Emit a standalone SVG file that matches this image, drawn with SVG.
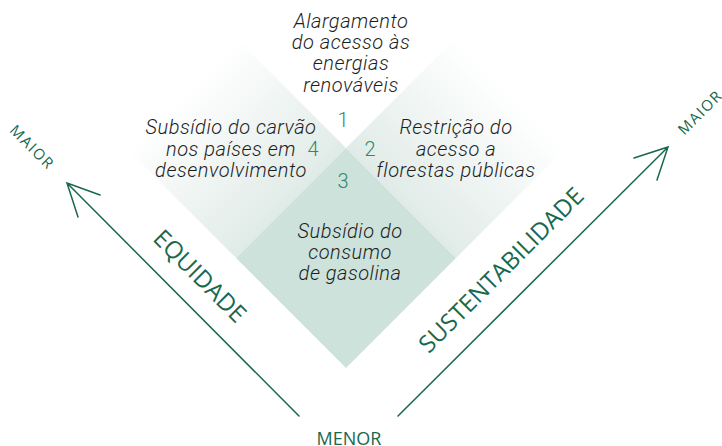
<svg xmlns="http://www.w3.org/2000/svg" width="722" height="446" viewBox="0 0 722 446">
  <defs>
    <linearGradient id="gl" gradientUnits="userSpaceOnUse" x1="181" y1="93" x2="291" y2="203">
      <stop offset="0" stop-color="#ffffff"/>
      <stop offset="1" stop-color="#e0ebe7"/>
    </linearGradient>
    <linearGradient id="gr" gradientUnits="userSpaceOnUse" x1="511" y1="93" x2="401" y2="203">
      <stop offset="0" stop-color="#ffffff"/>
      <stop offset="1" stop-color="#e0ebe7"/>
    </linearGradient>
    <style>
      .lbl { font-family: Roboto, "Liberation Sans", sans-serif; font-style: italic; font-weight: 300; font-size: 20px; fill: #1e1e1e; text-anchor: middle; letter-spacing: 0.5px; }
      .num { font-family: Roboto, "Liberation Sans", sans-serif; font-weight: 300; font-size: 20px; fill: #2f8a6c; text-anchor: middle; }
      .axis { font-family: "Open Sans", "Liberation Sans", sans-serif; fill: #17694e; text-anchor: middle; }
      .big { font-size: 24px; }
      .small { font-size: 15px; letter-spacing: 1.5px; }
      .arrow { fill: none; stroke: #17694e; stroke-width: 1.5; stroke-linecap: round; stroke-linejoin: miter; }
    </style>
  </defs>

  <g id="node-4">
    <polygon points="236,38 346,148 236,258 126,148" fill="url(#gl)"/>
    <text class="lbl" x="231" y="134">Subsídio do carvão</text>
    <text class="lbl" x="231" y="156">nos países em</text>
    <text class="lbl" x="231" y="177">desenvolvimento</text>
    <text class="num" x="313" y="156">4</text>
  </g>

  <g id="node-2">
    <polygon points="456,38 566,148 456,258 346,148" fill="url(#gr)"/>
    <text class="lbl" x="456" y="134">Restrição do</text>
    <text class="lbl" x="456" y="156">acesso a</text>
    <text class="lbl" x="456" y="177">florestas públicas</text>
    <text class="num" x="370" y="156">2</text>
  </g>

  <g id="node-3">
    <polygon points="346,148 456,258 346,368 236,258" fill="#cde2db"/>
    <text class="lbl" x="350" y="238">Subsídio do</text>
    <text class="lbl" x="350" y="259">consumo</text>
    <text class="lbl" x="350" y="280">de gasolina</text>
    <text class="num" x="343" y="188">3</text>
  </g>

  <g id="node-1">
    <text class="lbl" x="351" y="28">Alargamento</text>
    <text class="lbl" x="351" y="49">do acesso às</text>
    <text class="lbl" x="351" y="70">energias</text>
    <text class="lbl" x="351" y="92">renováveis</text>
    <text class="num" x="343" y="127">1</text>
  </g>

  <g id="connectors">
    <path class="arrow" d="M299,416 L67,183 M100,195 L67,183 L78,217"/>
    <path class="arrow" d="M398,416 L668,147 M634,158 L668,147 L657,180"/>
  </g>

  <g id="axis-labels">
    <text class="axis big" x="194" y="282" transform="rotate(45 194 282)">EQUIDADE</text>
    <text class="axis big" x="507" y="276" transform="rotate(-45 507 276)">SUSTENTABILIDADE</text>
    <text class="axis small" x="28.5" y="151" transform="rotate(45 28.5 151)">MAIOR</text>
    <text class="axis small" x="704" y="116" transform="rotate(-45 704 116)">MAIOR</text>
    <text class="axis" x="349" y="445" font-size="18">MENOR</text>
  </g>
</svg>
